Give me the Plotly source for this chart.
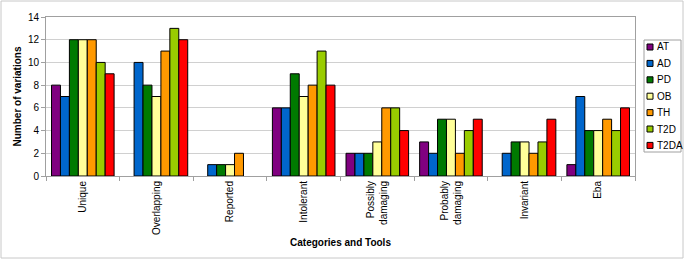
import plotly.graph_objects as go

categories = ["Unique", "Overlapping", "Reported", "Intolerant", "Possibly<br>damaging",
              "Probably<br>damaging", "Invariant", "Eba"]
series_names = ["AT", "AD", "PD", "OB", "TH", "T2D", "T2DA"]
AT = [8, 0, 0, 6, 2, 3, 0, 1]
AD = [7, 10, 1, 6, 2, 2, 2, 7]
PD = [12, 8, 1, 9, 2, 5, 3, 4]
OB = [12, 7, 1, 7, 3, 5, 3, 4]
TH = [12, 11, 2, 8, 6, 2, 2, 5]
T2D = [10, 13, 0, 11, 6, 4, 3, 4]
T2DA = [9, 12, 0, 8, 4, 5, 5, 6]
colors = ["#800080", "#0066CC", "#007A00", "#FFFF99", "#FF9900", "#99CC00", "#FF0000"]
y_ticks = [0, 2, 4, 6, 8, 10, 12, 14]

fig = go.Figure()
for name, vals, col in zip(series_names, [AT, AD, PD, OB, TH, T2D, T2DA], colors):
    fig.add_trace(go.Bar(
        name=name, x=categories, y=[v if v else None for v in vals],
        marker=dict(color=col, line=dict(color="#000000", width=1)),
    ))

W, H = 685, 260
L, R, T, B = 46, 50, 17, 84
pw, ph = W - L - R, H - T - B

def px(x):
    return (x - L) / pw

def py(y):
    return (H - B - y) / ph

shapes = [
    dict(type="rect", xref="paper", yref="paper",
         x0=px(1), x1=px(683), y0=py(258), y1=py(1),
         line=dict(color="#C8C8C8", width=1), layer="below"),
    dict(type="rect", xref="paper", yref="paper",
         x0=px(644), x1=px(681), y0=py(152), y1=py(40),
         line=dict(color="#A0A0A0", width=1), fillcolor="white", layer="below"),
]
annotations = []
for i, (name, col) in enumerate(zip(series_names, colors)):
    cy = 47 + i * 16.4
    shapes.append(dict(type="rect", xref="paper", yref="paper",
                       x0=px(647), x1=px(653), y0=py(cy + 3), y1=py(cy - 3),
                       line=dict(color="#000000", width=1), fillcolor=col))
    annotations.append(dict(xref="paper", yref="paper", x=px(655), y=py(cy),
                            xanchor="left", yanchor="middle", showarrow=False,
                            text=name, font=dict(size=10, color="#000000")))

fig.update_layout(
    width=W, height=H,
    margin=dict(l=L, r=R, t=T, b=B, autoexpand=False),
    paper_bgcolor="white", plot_bgcolor="white",
    barmode="group", bargap=0.15, bargroupgap=0,
    font=dict(family="Liberation Sans, Arial, sans-serif", size=10, color="#000000"),
    showlegend=False,
    xaxis=dict(
        tickangle=-90, tickfont=dict(size=10),
        showline=True, linecolor="#A0A0A0", mirror=True,
        ticks="outside", ticklen=4, tickcolor="#A0A0A0", tickson="boundaries",
        title=dict(text="<b>Categories and Tools</b>", font=dict(size=10), standoff=5),
        automargin=False,
    ),
    yaxis=dict(
        range=[0, 14], tickvals=y_ticks, tickfont=dict(size=10),
        showgrid=True, gridcolor="#D0D0D0",
        showline=True, linecolor="#A0A0A0", mirror=True,
        ticks="outside", ticklen=4, tickcolor="#A0A0A0",
        title=dict(text="<b>Number of variations</b>", font=dict(size=10), standoff=4),
        zeroline=False, automargin=False,
    ),
    shapes=shapes,
    annotations=annotations,
)

fig.write_html("out.html", config={"displayModeBar": False},
               post_script="document.body.style.margin='0';document.body.style.overflow='hidden';")
